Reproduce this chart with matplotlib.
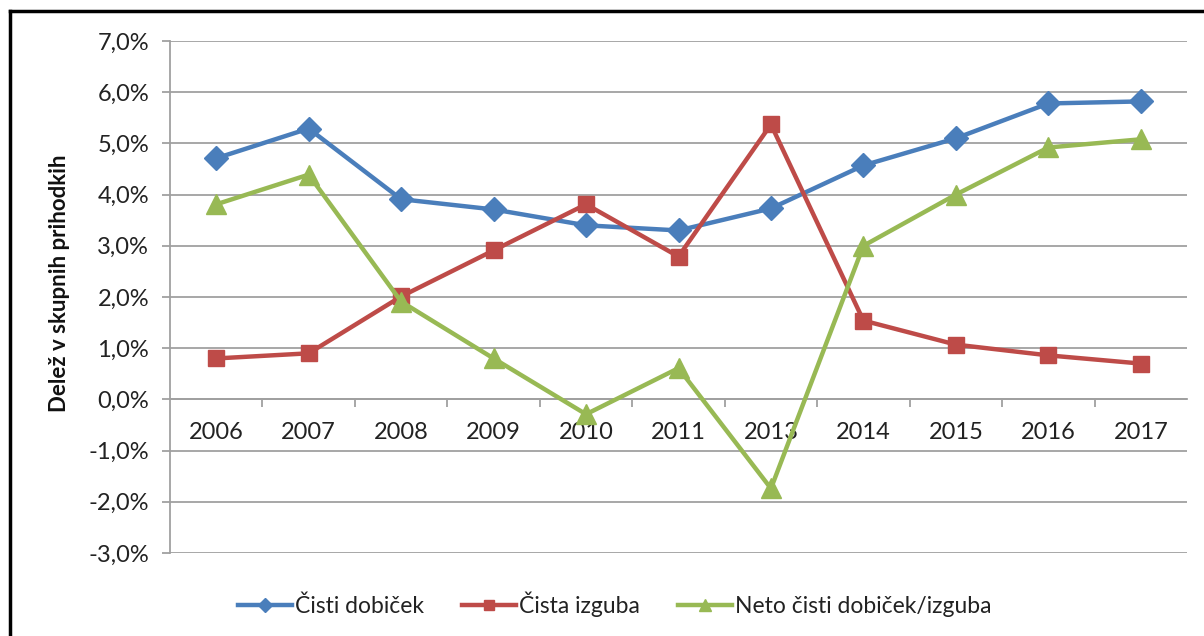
import matplotlib
matplotlib.use("Agg")
import matplotlib.pyplot as plt
from matplotlib.lines import Line2D
from matplotlib.ticker import FuncFormatter, FixedLocator
import numpy as np

years = ["2006", "2007", "2008", "2009", "2010", "2011", "2013", "2014", "2015", "2016", "2017"]
cisti_dobicek = [4.71, 5.29, 3.91, 3.71, 3.40, 3.30, 3.73, 4.57, 5.10, 5.78, 5.82]
cista_izguba = [0.80, 0.90, 2.01, 2.91, 3.81, 2.79, 5.37, 1.54, 1.07, 0.86, 0.70]
neto = [3.81, 4.39, 1.91, 0.80, -0.29, 0.61, -1.74, 3.00, 4.00, 4.92, 5.08]
series_names = ["Čisti dobiček", "Čista izguba", "Neto čisti dobiček/izguba"]
y_label = "Delež v skupnih prihodkih"

plt.rcParams['font.family'] = ['Lato', 'DejaVu Sans']

fig = plt.figure(figsize=(12.04, 6.36), dpi=100)
ax = fig.add_axes([170/1204, 1-553/636, (1187-170)/1204, (553-41)/636])

x = np.arange(len(years))
blue, red, green = "#4A7EBB", "#BE4B48", "#98B954"
ax.plot(x, cisti_dobicek, color=blue, lw=3.2, marker='D', ms=12.5, label=series_names[0], zorder=3)
ax.plot(x, cista_izguba, color=red, lw=3.2, marker='s', ms=12, label=series_names[1], zorder=3)
ax.plot(x, neto, color=green, lw=3.2, marker='^', ms=15, label=series_names[2], zorder=3)

ax.set_xlim(-0.5, len(years) - 0.5)
ax.set_ylim(-3, 7)
ax.set_yticks(np.arange(-3, 8, 1))
ax.yaxis.set_major_formatter(FuncFormatter(lambda v, p: f"{v:.1f}%".replace(".", ",")))
ax.grid(axis='y', color="#A0A0A0", lw=1.3, zorder=0)
ax.set_axisbelow(True)

for s in ['top', 'right']:
    ax.spines[s].set_visible(False)
ax.spines['left'].set_color("#A0A0A0")
ax.spines['left'].set_linewidth(1.3)
ax.spines['bottom'].set_position(('data', 0))
ax.spines['bottom'].set_color("#A0A0A0")
ax.spines['bottom'].set_linewidth(1.3)

ax.set_xticks(x)
ax.set_xticklabels(years)
ax.xaxis.set_minor_locator(FixedLocator(np.arange(0.5, len(years) - 0.5, 1)))
ax.tick_params(axis='x', which='major', length=0, pad=16, labelsize=17, labelcolor="#222222")
ax.tick_params(axis='x', which='minor', length=6, width=1.3, color="#A0A0A0", direction='out')
ax.tick_params(axis='y', length=6, width=1.3, color="#A0A0A0", labelsize=17, labelcolor="#222222", pad=9)

fig.text(60/1204, 1-283/636, y_label, rotation=90, ha='center', va='center',
         fontsize=16, fontweight='bold', color="#111111")

leg = fig.legend(loc='center left', bbox_to_anchor=(238/1204, 1-604/636),
                 ncol=3, frameon=False, fontsize=16.5, handlelength=2.35, columnspacing=1.65,
                 handletextpad=0.15, markerscale=0.6, borderaxespad=0, borderpad=0)
for t in leg.get_texts():
    t.set_color("#222222")

fig.add_artist(Line2D([10/1204, 10/1204], [0, 1-11/636], color='black', lw=2.5, transform=fig.transFigure))
fig.add_artist(Line2D([10/1204, 1], [1-11/636, 1-11/636], color='black', lw=2.5, transform=fig.transFigure))

fig.savefig("out.png", dpi=100)
